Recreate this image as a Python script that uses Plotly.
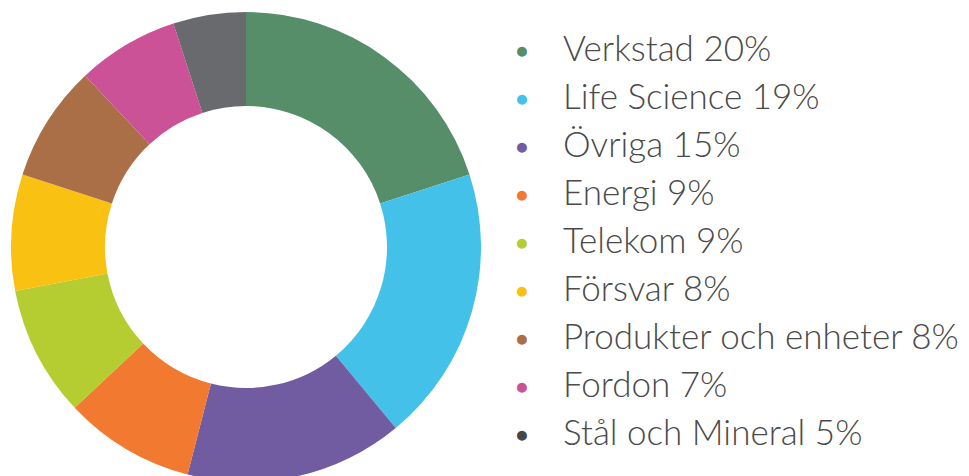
import plotly.graph_objects as go

labels = ["Verkstad", "Life Science", "Övriga", "Energi", "Telekom", "Försvar",
          "Produkter och enheter", "Fordon", "Stål och Mineral"]
values = [20, 19, 15, 9, 9, 8, 8, 7, 5]
colors = ["#568E6A", "#43C1E8", "#715CA2", "#F27A30", "#B5CD31", "#F9C112",
          "#AB6F47", "#CC5298", "#696A6E"]
legend_dot_colors = ["#568E6A", "#43C1E8", "#715CA2", "#F27A30", "#B5CD31", "#F9C112",
                     "#AB6F47", "#CC5298", "#474747"]

W, H = 969, 494
MT, MB = 12, 12
PH = H - MT - MB

def px_x(px):
    return px / W

def px_y(py):
    return 1 - (py - MT) / PH

fig = go.Figure()
fig.add_trace(go.Pie(
    labels=labels, values=values, hole=0.6, sort=False, direction="clockwise",
    rotation=0, marker=dict(colors=colors, line=dict(width=0)),
    textinfo="none", showlegend=False, hoverinfo="label+percent",
    domain=dict(x=[0, 492 / W], y=[0, 1]),
))

row0, gap = 49, 48
anns = []
for i, (lab, val, col) in enumerate(zip(labels, values, legend_dot_colors)):
    y = row0 + gap * i
    anns.append(dict(x=px_x(522), y=px_y(y), xref="paper", yref="paper",
                     text="●", showarrow=False, xanchor="center", yanchor="middle",
                     font=dict(size=23, color=col)))
    anns.append(dict(x=px_x(561), y=px_y(y - 2), xref="paper", yref="paper",
                     text=f"{lab} {val}%", showarrow=False, xanchor="left",
                     yanchor="middle",
                     font=dict(size=35, color="#4a4a4a", family="Lato", weight=300)))

fig.update_layout(
    width=W, height=H, margin=dict(l=0, r=0, t=MT, b=MB),
    paper_bgcolor="white", plot_bgcolor="white", annotations=anns,
)
fig.write_html("out.html")
